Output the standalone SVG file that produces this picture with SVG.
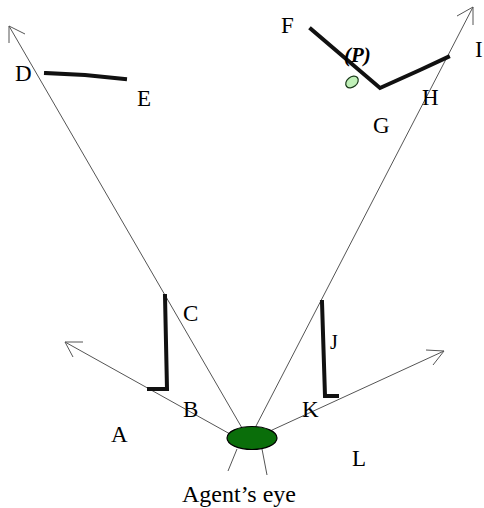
<svg xmlns="http://www.w3.org/2000/svg" width="484" height="508" viewBox="0 0 484 508">
<style>
.ray{stroke:#555;stroke-width:1;fill:none}
.head{stroke:#555;stroke-width:1;fill:none}
.wall{stroke:#111;stroke-width:4;fill:none;stroke-linejoin:miter;stroke-linecap:square}
.lbl{font-family:"Liberation Serif","Times New Roman",serif;font-size:23px;fill:#000}
</style>
<rect width="484" height="508" fill="#fff"/>
<g id="connectors">
<line class="ray" x1="242" y1="428" x2="9" y2="26"/>
<polyline class="head" points="9,43 9,26 25,34"/>
<line class="ray" x1="255" y1="428" x2="473" y2="7"/>
<polyline class="head" points="457,16 473,7 473,25"/>
<line class="ray" x1="230" y1="434" x2="65" y2="342"/>
<polyline class="head" points="83,342 65,342 73,357"/>
<line class="ray" x1="270" y1="431" x2="444" y2="351"/>
<polyline class="head" points="426,350 444,351 433,365"/>
<line class="ray" x1="237" y1="449" x2="228" y2="471"/>
<line class="ray" x1="262" y1="449" x2="267" y2="475"/>
</g>
<g id="wall-DE"><polyline class="wall" points="46,73 85,75 125,79"/></g>
<g id="wall-FGH"><polyline class="wall" points="311,29 380,88 420,70 448,57"/></g>
<g id="wall-C"><polyline class="wall" points="165,296 167,389 149,389"/></g>
<g id="wall-J"><polyline class="wall" points="322,302 325,396 337,396"/></g>
<g id="point-P"><ellipse cx="352" cy="82" rx="7" ry="5" transform="rotate(-40 352 82)" fill="#c0f0b8" stroke="#1a3a1a" stroke-width="1.2"/></g>
<g id="eye"><ellipse cx="252" cy="438" rx="25" ry="11.5" fill="#0a6e0a" stroke="#000" stroke-width="1.2"/></g>
<g id="labels">
<text class="lbl" x="15" y="81">D</text>
<text class="lbl" x="137" y="106">E</text>
<text class="lbl" x="281" y="33">F</text>
<text class="lbl" x="344" y="62" font-weight="bold" font-style="italic" style="font-size:21px">(P)</text>
<text class="lbl" x="475" y="57">I</text>
<text class="lbl" x="422" y="105">H</text>
<text class="lbl" x="373" y="133">G</text>
<text class="lbl" x="183" y="321">C</text>
<text class="lbl" x="330" y="349" style="font-size:20px">J</text>
<text class="lbl" x="183" y="417">B</text>
<text class="lbl" x="302" y="417">K</text>
<text class="lbl" x="111" y="442">A</text>
<text class="lbl" x="352" y="466">L</text>
<text class="lbl" x="182" y="502" style="font-size:24px">Agent’s eye</text>
</g>
</svg>
